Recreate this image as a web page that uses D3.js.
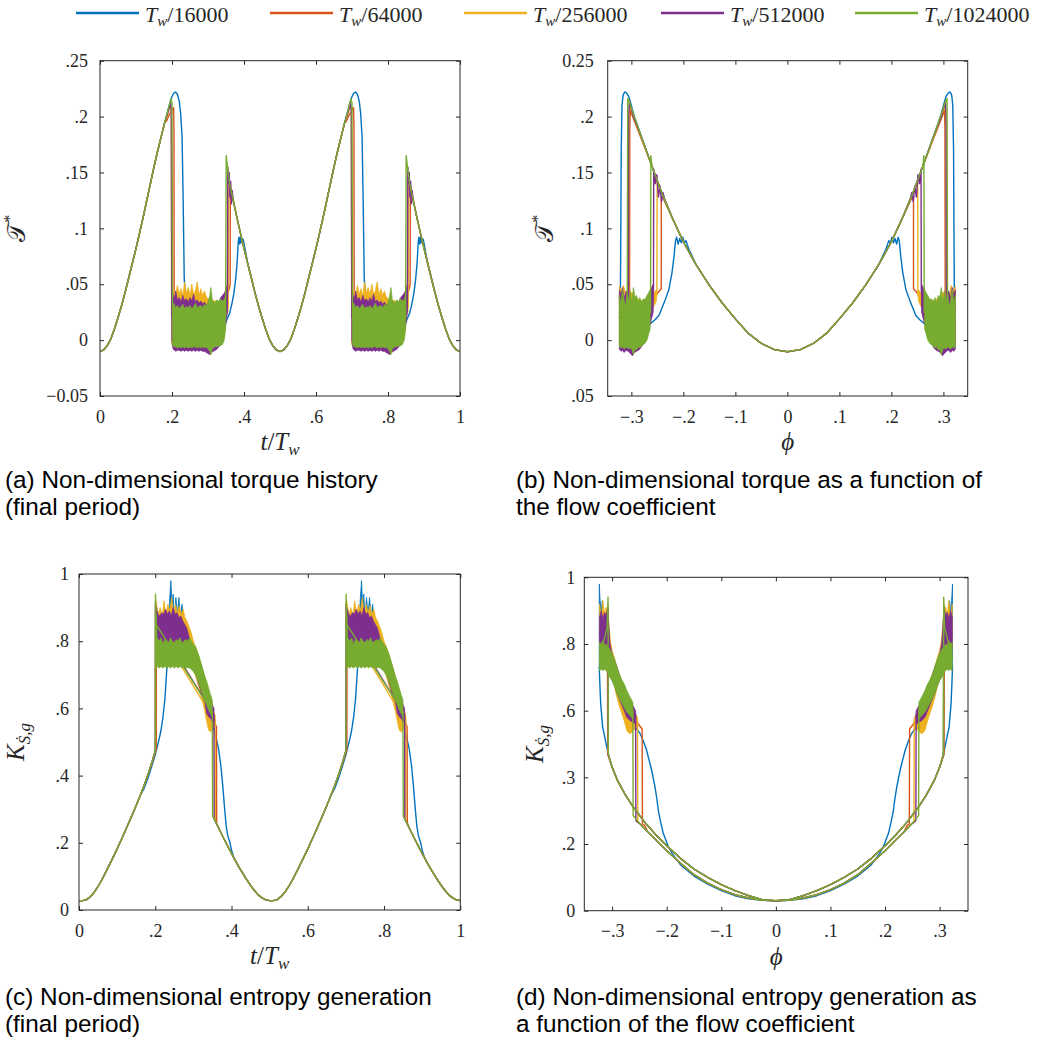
<!DOCTYPE html>
<html>
<head>
<meta charset="utf-8">
<script src="https://cdnjs.cloudflare.com/ajax/libs/d3/7.8.5/d3.min.js"></script>
<style>
  body { margin: 0; background: #fff; }
  svg text { font-family: "Liberation Serif", "Times New Roman", serif; fill: #262626; }
  .caption { font-family: "Liberation Sans", Arial, sans-serif; font-size: 24.3px; fill: #000; }
</style>
</head>
<body>
<svg id="fig" width="1050" height="1042"></svg>
<script>
// runs (time step) and MATLAB default colours
const runSteps = ["16000", "64000", "256000", "512000", "1024000"];
const runColors = ["#0072BD", "#D95319", "#EDB120", "#7E2F8E", "#77AC30"];

// the history plots show two identical half periods, the phi plots two mirrored halves
const halfPeriods = [0, 0.5];
const phiSides = [-1, 1];

// ---------- (a) torque vs t/Tw, first half period ----------
const torqueRise = [[0,-0.0104],[0.01,-0.0088],[0.02,-0.005],[0.03,0.001],[0.04,0.010],[0.05,0.020],[0.06,0.031],[0.07,0.043],[0.08,0.056],[0.09,0.069],[0.10,0.082],[0.11,0.096],[0.12,0.110],[0.13,0.125],[0.14,0.140],[0.15,0.155],[0.16,0.169],[0.17,0.182],[0.18,0.195],[0.19,0.207]];
const torqueFall = [[0.35,0.155],[0.36,0.140],[0.37,0.125],[0.38,0.110],[0.39,0.096],[0.40,0.082],[0.41,0.069],[0.42,0.056],[0.43,0.043],[0.44,0.031],[0.45,0.020],[0.46,0.010],[0.47,0.001],[0.48,-0.005],[0.49,-0.0088],[0.5,-0.0104]];

const torqueBlue = [[0.195,0.213],[0.2,0.218],[0.205,0.221],[0.21,0.222],[0.215,0.220],[0.22,0.214],[0.224,0.203],[0.228,0.182],[0.231,0.125],[0.234,0.055],[0.236,0.046],[0.24,0.040],[0.245,0.036],[0.25,0.030],[0.27,0.025],[0.29,0.020],[0.31,0.015],[0.33,0.010],[0.34,0.009],[0.345,0.012],[0.352,0.018],[0.36,0.024],[0.366,0.032],[0.372,0.042],[0.377,0.055],[0.381,0.070],[0.384,0.088],[0.386,0.092],[0.388,0.086],[0.39,0.092],[0.392,0.087],[0.394,0.091],[0.396,0.088],[0.398,0.090],[0.401,0.085]];
const torqueRed = [[0.185,0.196],[0.19,0.200],[0.195,0.203],[0.2,0.206],[0.2045,0.208],[0.2055,0.19],[0.206,0.040],[0.21,0.034],[0.22,0.033],[0.25,0.035],[0.28,0.032],[0.31,0.028],[0.33,0.026],[0.34,0.028],[0.35,0.036],[0.358,0.045],[0.3615,0.050],[0.362,0.137],[0.365,0.133],[0.37,0.126]];
const torqueYellow = [[0.185,0.199],[0.19,0.204],[0.195,0.210],[0.198,0.206],[0.199,0.02],[0.355,0.025],[0.356,0.035],[0.3575,0.146],[0.36,0.142],[0.365,0.133],[0.37,0.125]];
const torquePurple = [[0.19,0.205],[0.196,0.212],[0.198,0.205],[0.1995,0.02],[0.353,0.03],[0.354,0.04],[0.355,0.155],[0.357,0.14],[0.359,0.15],[0.361,0.128],[0.363,0.142],[0.365,0.122],[0.367,0.134],[0.37,0.125]];
const torqueGreen = [[0.19,0.207],[0.197,0.216],[0.2,0.212],[0.2015,0.02],[0.349,0.02],[0.349,0.035],[0.3505,0.165],[0.353,0.158],[0.356,0.15]];

// oscillation envelopes [t, low, high]
const torqueBandYellow = [[0.199,-0.004,0.042],[0.205,-0.005,0.045],[0.21,-0.005,0.040],[0.215,-0.005,0.049],[0.22,-0.005,0.041],[0.225,-0.005,0.046],[0.23,-0.005,0.040],[0.235,-0.005,0.052],[0.24,-0.005,0.042],[0.245,-0.005,0.047],[0.25,-0.005,0.040],[0.255,-0.005,0.050],[0.26,-0.005,0.041],[0.265,-0.005,0.044],[0.27,-0.005,0.052],[0.275,-0.005,0.040],[0.28,-0.005,0.046],[0.285,-0.005,0.040],[0.29,-0.005,0.044],[0.295,-0.005,0.039],[0.30,-0.005,0.037],[0.31,-0.004,0.036],[0.32,0.0,0.035],[0.33,0.005,0.034],[0.34,0.012,0.032],[0.35,0.02,0.036],[0.356,0.03,0.04]];
const torqueBandPurple = [[0.1995,0.0,0.046],[0.203,-0.008,0.040],[0.207,-0.009,0.037],[0.21,-0.010,0.044],[0.215,-0.009,0.036],[0.22,-0.009,0.038],[0.225,-0.010,0.034],[0.23,-0.009,0.040],[0.235,-0.010,0.035],[0.24,-0.009,0.037],[0.245,-0.010,0.034],[0.25,-0.009,0.038],[0.255,-0.010,0.035],[0.26,-0.009,0.041],[0.265,-0.010,0.034],[0.27,-0.009,0.036],[0.275,-0.010,0.033],[0.28,-0.009,0.035],[0.285,-0.010,0.032],[0.29,-0.010,0.034],[0.295,-0.011,0.031],[0.30,-0.012,0.033],[0.305,-0.013,0.032],[0.31,-0.011,0.030],[0.315,-0.010,0.031],[0.32,-0.009,0.030],[0.325,-0.008,0.032],[0.33,-0.006,0.034],[0.335,-0.004,0.038],[0.34,0.0,0.040],[0.345,0.005,0.042],[0.35,0.015,0.045],[0.354,0.025,0.05]];
const torqueBandGreen = [[0.2015,-0.004,0.030],[0.205,-0.006,0.033],[0.21,-0.006,0.029],[0.215,-0.007,0.031],[0.22,-0.006,0.028],[0.225,-0.007,0.030],[0.23,-0.006,0.032],[0.235,-0.007,0.028],[0.24,-0.006,0.030],[0.245,-0.007,0.029],[0.25,-0.006,0.031],[0.255,-0.007,0.028],[0.26,-0.006,0.030],[0.265,-0.006,0.033],[0.27,-0.007,0.029],[0.275,-0.006,0.030],[0.28,-0.007,0.031],[0.285,-0.006,0.029],[0.29,-0.007,0.032],[0.295,-0.006,0.030],[0.30,-0.008,0.034],[0.305,-0.010,0.040],[0.308,-0.013,0.047],[0.312,-0.008,0.036],[0.318,-0.006,0.033],[0.325,-0.006,0.036],[0.33,-0.005,0.034],[0.335,-0.005,0.037],[0.34,-0.004,0.035],[0.345,0.0,0.036],[0.349,0.01,0.04]];

// ---------- (b) torque vs |phi| (left half read, right half mirrored) ----------
const phiTorqueAttached = [[0,-0.0104],[0.025,-0.0085],[0.05,-0.003],[0.075,0.006],[0.1,0.019],[0.125,0.033],[0.15,0.049],[0.175,0.067],[0.2,0.088],[0.22,0.108],[0.24,0.130],[0.26,0.155],[0.28,0.181],[0.295,0.201],[0.305,0.215]];

const phiTorqueBlue = [[0.295,0.201],[0.30,0.21],[0.305,0.218],[0.31,0.2215],[0.313,0.222],[0.316,0.219],[0.318,0.21],[0.3195,0.17],[0.3205,0.08],[0.321,0.046],[0.323,0.038],[0.32,0.032],[0.31,0.025],[0.30,0.018],[0.29,0.010],[0.282,0.004],[0.278,0.0],[0.274,0.006],[0.27,0.010],[0.263,0.015],[0.255,0.018],[0.247,0.022],[0.24,0.030],[0.235,0.036],[0.228,0.045],[0.222,0.060],[0.218,0.075],[0.215,0.089],[0.213,0.092],[0.21,0.086],[0.207,0.091],[0.204,0.087],[0.201,0.092],[0.198,0.087],[0.195,0.089],[0.19,0.082]];
const phiTorqueRed = [[0.28,0.179],[0.29,0.191],[0.295,0.197],[0.30,0.203],[0.302,0.206],[0.303,0.19],[0.3035,0.04],[0.31,0.035],[0.318,0.036],[0.323,0.034],[0.315,0.030],[0.30,0.028],[0.285,0.027],[0.27,0.033],[0.26,0.037],[0.25,0.042],[0.2425,0.046],[0.2425,0.128],[0.24,0.128]];
const phiTorqueYellow = [[0.28,0.180],[0.295,0.199],[0.303,0.211],[0.3045,0.2],[0.305,0.02],[0.323,0.02],[0.27,0.025],[0.255,0.036],[0.251,0.040],[0.2505,0.143],[0.248,0.138],[0.245,0.135]];
const phiTorquePurple = [[0.295,0.199],[0.30,0.207],[0.304,0.213],[0.305,0.20],[0.3055,0.02],[0.323,0.02],[0.26,0.03],[0.2575,0.045],[0.257,0.153],[0.254,0.14],[0.251,0.148],[0.248,0.128],[0.245,0.138],[0.242,0.124],[0.239,0.132],[0.236,0.126]];
const phiTorqueGreen = [[0.295,0.201],[0.305,0.215],[0.307,0.216],[0.308,0.02],[0.323,0.02],[0.263,0.025],[0.263,0.04],[0.2625,0.165],[0.261,0.158]];

const phiTorqueBandYellow = [[0.323,-0.004,0.048],[0.319,-0.005,0.044],[0.315,-0.004,0.049],[0.311,-0.005,0.040],[0.307,-0.005,0.046],[0.303,-0.005,0.041],[0.299,-0.004,0.043],[0.295,-0.004,0.039],[0.29,-0.003,0.038],[0.285,0.0,0.036],[0.28,0.005,0.035],[0.275,0.012,0.036],[0.27,0.018,0.038],[0.265,0.025,0.040],[0.257,0.030,0.042],[0.252,0.035,0.045]];
const phiTorqueBandPurple = [[0.323,-0.008,0.045],[0.32,-0.010,0.040],[0.317,-0.009,0.047],[0.314,-0.011,0.037],[0.31,-0.009,0.044],[0.306,-0.010,0.038],[0.302,-0.012,0.036],[0.298,-0.014,0.034],[0.294,-0.011,0.030],[0.29,-0.010,0.032],[0.286,-0.009,0.030],[0.282,-0.007,0.032],[0.278,-0.004,0.034],[0.274,0.0,0.036],[0.27,0.004,0.038],[0.266,0.010,0.042],[0.262,0.018,0.046],[0.258,0.025,0.050]];
const phiTorqueBandGreen = [[0.323,-0.006,0.040],[0.32,-0.007,0.033],[0.317,-0.006,0.045],[0.314,-0.008,0.036],[0.311,-0.007,0.030],[0.308,-0.006,0.042],[0.305,-0.008,0.035],[0.302,-0.007,0.044],[0.299,-0.008,0.032],[0.296,-0.013,0.047],[0.293,-0.008,0.038],[0.29,-0.009,0.040],[0.287,-0.006,0.033],[0.284,-0.007,0.038],[0.28,-0.005,0.034],[0.277,-0.004,0.037],[0.274,-0.003,0.036],[0.27,0.0,0.040],[0.267,0.005,0.042],[0.264,0.010,0.045]];

// ---------- (c) entropy generation vs t/Tw, first half period ----------
const entropyRise = [[0,0.028],[0.01,0.028],[0.02,0.031],[0.03,0.040],[0.04,0.053],[0.05,0.070],[0.06,0.090],[0.07,0.112],[0.08,0.135],[0.09,0.158],[0.10,0.182],[0.11,0.207],[0.12,0.232],[0.13,0.258],[0.14,0.284],[0.15,0.311],[0.16,0.339],[0.17,0.368],[0.18,0.400],[0.19,0.435],[0.2,0.475]];
const entropyFall = [[0.35,0.28],[0.36,0.258],[0.37,0.235],[0.38,0.212],[0.39,0.19],[0.40,0.168],[0.41,0.147],[0.42,0.127],[0.43,0.108],[0.44,0.09],[0.45,0.073],[0.46,0.058],[0.47,0.045],[0.48,0.036],[0.49,0.030],[0.5,0.028]];

const entropyBlue = [[0.17,0.36],[0.18,0.39],[0.19,0.425],[0.2,0.462],[0.205,0.485],[0.21,0.508],[0.215,0.535],[0.22,0.572],[0.225,0.625],[0.228,0.675],[0.231,0.73],[0.3,0.74],[0.345,0.6],[0.35,0.555],[0.36,0.51],[0.366,0.48],[0.372,0.43],[0.377,0.37],[0.382,0.30],[0.386,0.25],[0.39,0.222],[0.396,0.2],[0.40,0.178],[0.405,0.16]];
const entropyRed = [[0.19,0.432],[0.2,0.468],[0.2025,0.478],[0.203,0.90],[0.205,0.86],[0.21,0.83],[0.22,0.85],[0.23,0.84],[0.25,0.85],[0.27,0.83],[0.29,0.80],[0.31,0.74],[0.33,0.66],[0.345,0.60],[0.352,0.57],[0.3605,0.545],[0.361,0.26],[0.365,0.248],[0.37,0.235]];
const entropyYellow = [[0.19,0.435],[0.2,0.475],[0.2008,0.92],[0.202,0.85],[0.357,0.56],[0.357,0.57],[0.3575,0.265],[0.36,0.258]];
const entropyPurple = [[0.19,0.435],[0.2,0.475],[0.2005,0.91],[0.202,0.86],[0.354,0.58],[0.3545,0.27],[0.36,0.258]];
const entropyGreen = [[0.19,0.435],[0.2,0.475],[0.2005,0.94],[0.202,0.85],[0.3495,0.59],[0.3505,0.278],[0.355,0.27]];

const entropyBandBlue = [[0.231,0.72,0.75],[0.235,0.73,0.86],[0.238,0.74,0.93],[0.241,0.74,0.98],[0.244,0.74,0.90],[0.247,0.74,0.94],[0.25,0.74,0.86],[0.254,0.74,0.93],[0.258,0.74,0.88],[0.262,0.74,0.93],[0.266,0.74,0.87],[0.27,0.74,0.91],[0.275,0.74,0.86],[0.28,0.74,0.85],[0.29,0.73,0.82],[0.30,0.72,0.79],[0.31,0.70,0.76],[0.32,0.67,0.72],[0.33,0.635,0.68],[0.34,0.605,0.64],[0.345,0.59,0.62]];
const entropyBandYellow = [[0.202,0.79,0.92],[0.208,0.79,0.88],[0.213,0.79,0.90],[0.218,0.79,0.875],[0.223,0.79,0.92],[0.228,0.79,0.88],[0.233,0.79,0.91],[0.238,0.79,0.89],[0.243,0.79,0.93],[0.248,0.79,0.88],[0.253,0.79,0.91],[0.258,0.79,0.885],[0.263,0.79,0.905],[0.268,0.79,0.88],[0.273,0.785,0.895],[0.278,0.78,0.87],[0.283,0.77,0.86],[0.288,0.76,0.845],[0.293,0.745,0.83],[0.30,0.72,0.80],[0.31,0.68,0.77],[0.32,0.64,0.73],[0.33,0.59,0.69],[0.335,0.56,0.67],[0.34,0.535,0.64],[0.345,0.53,0.62],[0.35,0.54,0.60],[0.357,0.55,0.58]];
const entropyBandPurple = [[0.202,0.78,0.90],[0.207,0.78,0.88],[0.212,0.785,0.875],[0.217,0.78,0.885],[0.222,0.785,0.88],[0.227,0.78,0.895],[0.232,0.785,0.88],[0.237,0.78,0.89],[0.242,0.785,0.875],[0.247,0.78,0.90],[0.252,0.785,0.88],[0.257,0.78,0.885],[0.262,0.785,0.87],[0.267,0.78,0.875],[0.272,0.775,0.86],[0.277,0.77,0.85],[0.282,0.76,0.84],[0.287,0.75,0.82],[0.292,0.74,0.80],[0.30,0.72,0.78],[0.31,0.69,0.76],[0.32,0.65,0.73],[0.33,0.62,0.69],[0.335,0.585,0.67],[0.34,0.575,0.65],[0.345,0.57,0.63],[0.35,0.56,0.61],[0.354,0.56,0.60]];
const entropyBandGreen = [[0.202,0.72,0.88],[0.205,0.725,0.81],[0.21,0.72,0.80],[0.215,0.725,0.81],[0.22,0.72,0.79],[0.225,0.725,0.805],[0.23,0.72,0.80],[0.235,0.725,0.795],[0.24,0.72,0.81],[0.245,0.725,0.80],[0.25,0.72,0.795],[0.255,0.725,0.805],[0.26,0.72,0.80],[0.265,0.725,0.81],[0.27,0.72,0.795],[0.275,0.725,0.80],[0.28,0.72,0.805],[0.285,0.722,0.80],[0.29,0.72,0.81],[0.295,0.715,0.80],[0.30,0.71,0.79],[0.305,0.70,0.785],[0.31,0.69,0.77],[0.315,0.675,0.755],[0.32,0.655,0.735],[0.325,0.64,0.715],[0.33,0.625,0.695],[0.335,0.61,0.68],[0.34,0.595,0.66],[0.345,0.585,0.64],[0.3495,0.575,0.625]];

// ---------- (d) entropy generation vs |phi| ----------
const phiEntropyRise = [[0,0.030],[0.025,0.033],[0.05,0.045],[0.075,0.060],[0.1,0.078],[0.125,0.100],[0.15,0.125],[0.175,0.157],[0.2,0.195],[0.22,0.228],[0.24,0.265],[0.26,0.308],[0.275,0.345],[0.29,0.390],[0.30,0.430],[0.307,0.470]];
const phiEntropyFall = [[0.262,0.285],[0.25,0.262],[0.235,0.237],[0.22,0.213],[0.2,0.180],[0.175,0.143],[0.15,0.108],[0.125,0.083],[0.1,0.063],[0.075,0.048],[0.05,0.038],[0.025,0.032],[0,0.030]];

const phiEntropyBlue = [[0.3,0.432],[0.305,0.458],[0.31,0.492],[0.3175,0.552],[0.321,0.622],[0.3225,0.68],[0.3236,0.73],[0.30,0.72],[0.262,0.59],[0.262,0.56],[0.255,0.545],[0.249,0.532],[0.243,0.51],[0.237,0.482],[0.232,0.45],[0.2277,0.422],[0.2216,0.372],[0.218,0.335],[0.2155,0.302],[0.211,0.265],[0.2063,0.232],[0.197,0.192],[0.19,0.172],[0.175,0.138],[0.15,0.104],[0.125,0.080],[0.1,0.060],[0.075,0.045],[0.05,0.036],[0.025,0.031],[0,0.029]];
const phiEntropyRed = [[0.30,0.43],[0.308,0.468],[0.309,0.90],[0.31,0.86],[0.315,0.84],[0.32,0.85],[0.323,0.84],[0.32,0.85],[0.31,0.82],[0.30,0.76],[0.29,0.72],[0.28,0.67],[0.27,0.62],[0.26,0.58],[0.252,0.56],[0.245,0.545],[0.2445,0.26],[0.24,0.255]];
const phiEntropyYellow = [[0.30,0.43],[0.307,0.47],[0.3078,0.92],[0.309,0.85],[0.323,0.85],[0.26,0.58],[0.2535,0.57],[0.253,0.265],[0.25,0.262]];
const phiEntropyPurple = [[0.30,0.43],[0.307,0.468],[0.3075,0.91],[0.308,0.86],[0.323,0.83],[0.26,0.59],[0.257,0.59],[0.2565,0.27],[0.25,0.262]];
const phiEntropyGreen = [[0.30,0.43],[0.307,0.47],[0.3075,0.94],[0.309,0.85],[0.323,0.76],[0.262,0.60],[0.2615,0.285]];

const phiEntropyBandBlue = [[0.3236,0.73,0.98],[0.322,0.74,0.93],[0.32,0.74,0.90],[0.318,0.74,0.93],[0.315,0.74,0.87],[0.312,0.73,0.86],[0.307,0.715,0.79],[0.30,0.69,0.76],[0.292,0.66,0.72],[0.283,0.63,0.68],[0.273,0.60,0.64],[0.262,0.58,0.60]];
const phiEntropyBandYellow = [[0.323,0.79,0.92],[0.32,0.79,0.88],[0.317,0.79,0.93],[0.314,0.79,0.89],[0.311,0.79,0.91],[0.308,0.77,0.90],[0.304,0.74,0.82],[0.30,0.70,0.78],[0.296,0.675,0.76],[0.292,0.645,0.735],[0.288,0.62,0.71],[0.283,0.595,0.69],[0.278,0.57,0.675],[0.273,0.54,0.65],[0.267,0.53,0.62],[0.262,0.54,0.60],[0.2535,0.55,0.58]];
const phiEntropyBandPurple = [[0.323,0.78,0.88],[0.32,0.78,0.90],[0.317,0.785,0.875],[0.314,0.78,0.895],[0.311,0.78,0.885],[0.308,0.76,0.91],[0.304,0.73,0.80],[0.300,0.70,0.77],[0.296,0.68,0.75],[0.292,0.655,0.735],[0.288,0.64,0.715],[0.283,0.62,0.69],[0.278,0.60,0.67],[0.273,0.58,0.65],[0.267,0.57,0.63],[0.262,0.565,0.615],[0.257,0.56,0.60]];
const phiEntropyBandGreen = [[0.323,0.72,0.805],[0.32,0.725,0.80],[0.317,0.72,0.81],[0.314,0.725,0.795],[0.311,0.72,0.80],[0.308,0.715,0.79],[0.304,0.70,0.785],[0.300,0.69,0.77],[0.296,0.675,0.755],[0.292,0.655,0.735],[0.288,0.64,0.715],[0.283,0.625,0.695],[0.278,0.61,0.68],[0.273,0.595,0.66],[0.267,0.585,0.64],[0.262,0.575,0.625]];

// tick values and labels
const tTicks = [0, 0.2, 0.4, 0.6, 0.8, 1];
const tTickLabels = ["0", ".2", ".4", ".6", ".8", "1"];
const phiTicks = [-0.3, -0.2, -0.1, 0, 0.1, 0.2, 0.3];
const phiTickLabels = ["\u2212.3", "\u2212.2", "\u2212.1", "0", ".1", ".2", ".3"];
const torqueTicks = [-0.05, 0, 0.05, 0.1, 0.15, 0.2, 0.25];
const torqueTickLabelsA = ["\u22120.05", "0", ".05", ".1", ".15", ".2", ".25"];
const torqueTickLabelsB = [".05", "0", ".05", ".1", ".15", ".2", "0.25"];
const entropyTicks = [0, 0.2, 0.4, 0.6, 0.8, 1];
const entropyTickLabelsC = ["0", ".2", ".4", ".6", ".8", "1"];
const entropyTickLabelsD = ["0", ".2", ".3", ".6", ".8", "1"];

const captions = [
  {x: 5, y: 488, lines: ["(a) Non-dimensional torque history", "(final period)"]},
  {x: 516, y: 488, lines: ["(b) Non-dimensional torque as a function of", "the flow coefficient"]},
  {x: 5, y: 1005, lines: ["(c) Non-dimensional entropy generation", "(final period)"]},
  {x: 516, y: 1005, lines: ["(d) Non-dimensional entropy generation as", "a function of the flow coefficient"]}
];

// ------------------------------------------------------------------
const svg = d3.select("#fig");
const SERIF = "Liberation Serif";

// a run follows the attached curve up to its own section, then back onto it
function joinPath(rise, own, fall) {
  const first = own[0][0], last = own[own.length - 1][0];
  const ascending = fall[1][0] > fall[0][0];
  return rise.filter(p => p[0] < first)
    .concat(own)
    .concat(fall.filter(p => ascending ? p[0] > last : p[0] < last));
}

function styleAxis(g) {
  g.attr("font-family", SERIF).attr("font-size", 18);
  g.select(".domain").remove();
  g.selectAll(".tick line").attr("stroke", "#262626");
  g.selectAll(".tick text").attr("fill", "#262626")
    .style("font-family", SERIF).style("font-size", "18px");
}

function drawPanel(cfg, id) {
  const x = d3.scaleLinear().domain(cfg.xDomain).range([cfg.left, cfg.right]);
  const y = d3.scaleLinear().domain(cfg.yDomain).range([cfg.bottom, cfg.top]);
  const W = cfg.right - cfg.left, H = cfg.bottom - cfg.top;

  svg.append("clipPath").attr("id", "clip" + id)
    .append("rect").attr("x", cfg.left).attr("y", cfg.top).attr("width", W).attr("height", H);

  const plot = svg.append("g").attr("clip-path", `url(#clip${id})`);

  cfg.copies.forEach(place => {
    const line = d3.line().x(d => x(place(d[0]))).y(d => y(d[1]));
    const area = d3.area().x(d => x(place(d[0]))).y0(d => y(d[1])).y1(d => y(d[2]));
    cfg.lines.forEach((pts, i) => {
      plot.append("path").attr("d", line(pts))
        .attr("fill", "none").attr("stroke", runColors[i])
        .attr("stroke-width", 1.4).attr("stroke-linejoin", "round");
      if (cfg.bands[i]) {
        plot.append("path").attr("d", area(cfg.bands[i]))
          .attr("fill", runColors[i]).attr("stroke", runColors[i]).attr("stroke-width", 0.8);
      }
    });
  });

  // axes: ticks inside on all four sides
  const fmt = labels => (d, i) => labels[i];
  svg.append("g").attr("transform", `translate(0,${cfg.bottom})`)
    .call(d3.axisBottom(x).tickValues(cfg.xTicks).tickFormat(fmt(cfg.xLabels))
      .tickSizeInner(-4).tickSizeOuter(0).tickPadding(14))
    .call(styleAxis);
  svg.append("g").attr("transform", `translate(0,${cfg.top})`)
    .call(d3.axisTop(x).tickValues(cfg.xTicks).tickFormat("").tickSizeInner(-4).tickSizeOuter(0))
    .call(styleAxis);
  svg.append("g").attr("transform", `translate(${cfg.left},0)`)
    .call(d3.axisLeft(y).tickValues(cfg.yTicks).tickFormat(fmt(cfg.yLabels))
      .tickSizeInner(-4).tickSizeOuter(0).tickPadding(cfg.yPad))
    .call(styleAxis);
  svg.append("g").attr("transform", `translate(${cfg.right},0)`)
    .call(d3.axisRight(y).tickValues(cfg.yTicks).tickFormat("").tickSizeInner(-4).tickSizeOuter(0))
    .call(styleAxis);

  svg.append("rect").attr("x", cfg.left).attr("y", cfg.top).attr("width", W).attr("height", H)
    .attr("fill", "none").attr("stroke", "#262626").attr("stroke-width", 1);

  // axis titles
  const xt = svg.append("text").attr("x", (cfg.left + cfg.right) / 2).attr("y", cfg.bottom + 54)
    .attr("text-anchor", "middle").attr("font-size", 25);
  cfg.xTitle(xt);
  const yt = svg.append("text")
    .attr("transform", `translate(${cfg.yTitleX},${(cfg.top + cfg.bottom) / 2}) rotate(-90)`)
    .attr("text-anchor", "middle").attr("font-size", 25);
  cfg.yTitle(yt);
}

function titleT(t) {
  t.append("tspan").attr("font-style", "italic").text("t");
  t.append("tspan").text("/");
  t.append("tspan").attr("font-style", "italic").text("T");
  t.append("tspan").attr("font-style", "italic").attr("font-size", 17).attr("dy", 5).text("w");
}
function titlePhi(t) {
  t.append("tspan").attr("font-style", "italic").text("\u03D5");
}
function titleTorque(t) {
  t.append("tspan").style("font-family", "'DejaVu Serif', 'DejaVu Sans', serif").text("\uD835\uDCAF");
  t.append("tspan").attr("font-size", 16).attr("dy", -10).text("*");
}
function titleEntropy(t) {
  t.append("tspan").attr("font-style", "italic").text("K");
  t.append("tspan").attr("font-style", "italic").attr("font-size", 17).attr("dy", 6).text("\u1E60,g");
}

const sides = phiSides.map(s => v => s * v);
const shifts = halfPeriods.map(o => v => v + o);

drawPanel({
  left: 100, right: 460, top: 60.7, bottom: 396,
  xDomain: [0, 1], yDomain: [-0.05, 0.25],
  xTicks: tTicks, xLabels: tTickLabels, yTicks: torqueTicks, yLabels: torqueTickLabelsA, yPad: 12,
  copies: shifts,
  lines: [joinPath(torqueRise, torqueBlue, torqueFall), joinPath(torqueRise, torqueRed, torqueFall),
          joinPath(torqueRise, torqueYellow, torqueFall), joinPath(torqueRise, torquePurple, torqueFall),
          joinPath(torqueRise, torqueGreen, torqueFall)],
  bands: [null, null, torqueBandYellow, torqueBandPurple, torqueBandGreen],
  xTitle: titleT, yTitle: titleTorque, yTitleX: 25
}, "a");

const phiTorqueReturn = phiTorqueAttached.slice().reverse();
drawPanel({
  left: 607.7, right: 967.7, top: 60.7, bottom: 396,
  xDomain: [-0.3455, 0.3467], yDomain: [-0.05, 0.25],
  xTicks: phiTicks, xLabels: phiTickLabels, yTicks: torqueTicks, yLabels: torqueTickLabelsB, yPad: 14,
  copies: sides,
  lines: [joinPath(phiTorqueAttached, phiTorqueBlue, phiTorqueReturn), joinPath(phiTorqueAttached, phiTorqueRed, phiTorqueReturn),
          joinPath(phiTorqueAttached, phiTorqueYellow, phiTorqueReturn), joinPath(phiTorqueAttached, phiTorquePurple, phiTorqueReturn),
          joinPath(phiTorqueAttached, phiTorqueGreen, phiTorqueReturn)],
  bands: [null, null, phiTorqueBandYellow, phiTorqueBandPurple, phiTorqueBandGreen],
  xTitle: titlePhi, yTitle: titleTorque, yTitleX: 553
}, "b");

drawPanel({
  left: 79, right: 460.3, top: 574, bottom: 910,
  xDomain: [0, 1], yDomain: [0, 1],
  xTicks: tTicks, xLabels: tTickLabels, yTicks: entropyTicks, yLabels: entropyTickLabelsC, yPad: 10,
  copies: shifts,
  lines: [joinPath(entropyRise, entropyBlue, entropyFall), joinPath(entropyRise, entropyRed, entropyFall),
          joinPath(entropyRise, entropyYellow, entropyFall), joinPath(entropyRise, entropyPurple, entropyFall),
          joinPath(entropyRise, entropyGreen, entropyFall)],
  bands: [entropyBandBlue, null, entropyBandYellow, entropyBandPurple, entropyBandGreen],
  xTitle: titleT, yTitle: titleEntropy, yTitleX: 24
}, "c");

drawPanel({
  left: 584.3, right: 968, top: 577.3, bottom: 910.7,
  xDomain: [-0.351, 0.352], yDomain: [0, 1],
  xTicks: phiTicks, xLabels: phiTickLabels, yTicks: entropyTicks, yLabels: entropyTickLabelsD, yPad: 9,
  copies: sides,
  lines: [joinPath(phiEntropyRise, phiEntropyBlue, phiEntropyFall), joinPath(phiEntropyRise, phiEntropyRed, phiEntropyFall),
          joinPath(phiEntropyRise, phiEntropyYellow, phiEntropyFall), joinPath(phiEntropyRise, phiEntropyPurple, phiEntropyFall),
          joinPath(phiEntropyRise, phiEntropyGreen, phiEntropyFall)],
  bands: [phiEntropyBandBlue, null, phiEntropyBandYellow, phiEntropyBandPurple, phiEntropyBandGreen],
  xTitle: titlePhi, yTitle: titleEntropy, yTitleX: 543
}, "d");

// legend
const legendX = [76, 270, 464, 661, 855];
const legend = svg.append("g");
runSteps.forEach((step, i) => {
  legend.append("line").attr("x1", legendX[i]).attr("x2", legendX[i] + 63)
    .attr("y1", 13).attr("y2", 13).attr("stroke", runColors[i]).attr("stroke-width", 2.5);
  const t = legend.append("text").attr("x", legendX[i] + 69).attr("y", 22).attr("font-size", 22);
  t.append("tspan").attr("font-style", "italic").text("T");
  t.append("tspan").attr("font-style", "italic").attr("font-size", 15).attr("dy", 4).text("w");
  t.append("tspan").attr("dy", -4).text("/" + step);
});

// sub-captions
captions.forEach(c => {
  const t = svg.append("text").attr("class", "caption");
  c.lines.forEach((ln, k) => {
    t.append("tspan").attr("x", c.x).attr("y", c.y + k * 26.5).text(ln);
  });
});
</script>
</body>
</html>
